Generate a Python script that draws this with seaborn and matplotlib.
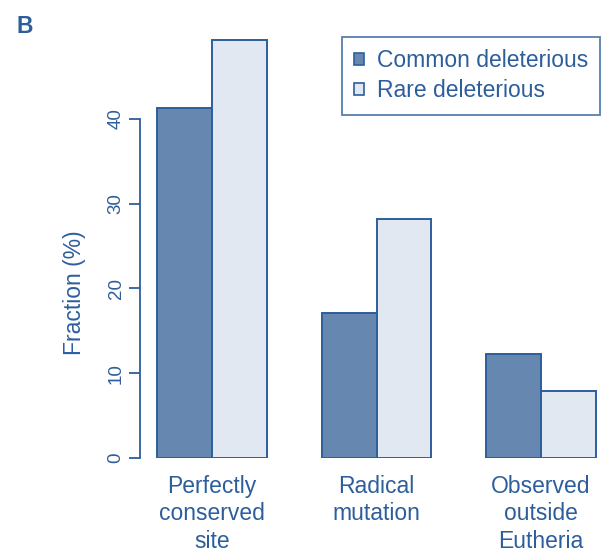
import matplotlib
matplotlib.use("Agg")
import matplotlib.pyplot as plt
import seaborn as sns
import pandas as pd

categories = ["Perfectly\nconserved\nsite", "Radical\nmutation", "Observed\noutside\nEutheria"]
series_names = ["Common deleterious", "Rare deleterious"]
common_values = [41.3, 17.1, 12.3]
rare_values = [49.3, 28.2, 7.9]
y_ticks = [0, 10, 20, 30, 40]

df = pd.DataFrame({
    "category": categories * 2,
    "group": [series_names[0]] * 3 + [series_names[1]] * 3,
    "fraction": common_values + rare_values,
})

sns.set_theme(style="white")
plt.rcParams["font.family"] = ["Liberation Sans", "DejaVu Sans"]

blue = "#2d5e9c"
palette = {series_names[0]: "#6688b0", series_names[1]: "#e1e8f1"}

fig = plt.figure(figsize=(6.01, 5.52), dpi=100)
W, H = 601, 552
ax = fig.add_axes([140 / W, (H - 458) / H, 461 / W, 428 / H])

sns.barplot(data=df, x="category", y="fraction", hue="group", order=categories,
            hue_order=series_names, palette=palette, width=2 / 3, saturation=1,
            edgecolor=blue, linewidth=1.4, ax=ax)

ax.set_xlim((140 - 212) / 164.5, (601 - 212) / 164.5)
ax.set_ylim(0, 428 / 8.48)

for s in ["top", "right", "bottom"]:
    ax.spines[s].set_visible(False)
ax.spines["left"].set_bounds(0, 40)
ax.spines["left"].set_color(blue)
ax.spines["left"].set_linewidth(1.3)

ax.set_yticks(y_ticks)
ax.set_yticklabels([str(t) for t in y_ticks], rotation=90, va="center")
ax.tick_params(axis="y", direction="out", length=8, width=1.3, color=blue,
               labelcolor=blue, labelsize=13.5, pad=3, left=True)
ax.tick_params(axis="x", length=0, labelcolor=blue, labelsize=16.5, pad=12)
for lbl in ax.get_xticklabels():
    lbl.set_linespacing(1.25)

ax.set_xlabel("")
ax.set_ylabel("Fraction (%)", color=blue, fontsize=16.5)
ax.yaxis.set_label_coords((86 - 140) / 461, (458 - 293) / 428)

ax.get_legend().remove()
handles = [plt.Rectangle((0, 0), 1, 1, facecolor=palette[n], edgecolor=blue, linewidth=1.2)
           for n in series_names]
leg = fig.legend(handles, series_names, loc="upper right",
                 bbox_to_anchor=(600 / W, 1 - 37 / H), bbox_transform=fig.transFigure,
                 frameon=True, fancybox=False, fontsize=16.5, handlelength=0.44,
                 handleheight=0.44, handletextpad=0.55, borderpad=0.53, labelspacing=0.32,
                 borderaxespad=0)
leg.get_frame().set_edgecolor(blue)
leg.get_frame().set_linewidth(1.3)
for t in leg.get_texts():
    t.set_color(blue)

fig.text(17 / W, 1 - 33 / H, "B", color=blue, fontsize=16.5, fontweight="bold",
         va="baseline")

fig.savefig("out.png", dpi=100)
